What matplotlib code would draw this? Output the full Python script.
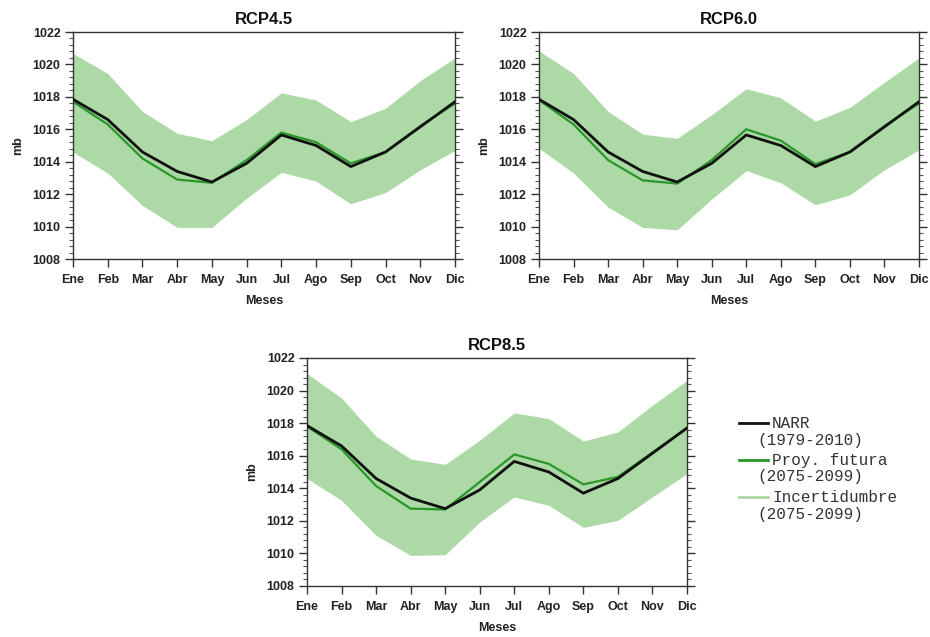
import matplotlib
matplotlib.use("Agg")
import matplotlib.pyplot as plt
from matplotlib.lines import Line2D
from matplotlib.ticker import MultipleLocator

# Monthly mean sea-level pressure (mb)
months = ["Ene", "Feb", "Mar", "Abr", "May", "Jun", "Jul", "Ago", "Sep", "Oct", "Nov", "Dic"]

narr = [1017.85, 1016.6, 1014.6, 1013.4, 1012.75, 1013.9, 1015.65, 1015.0, 1013.7, 1014.6, 1016.15, 1017.7]

rcp45_proj = [1017.7, 1016.3, 1014.2, 1012.9, 1012.7, 1014.1, 1015.8, 1015.2, 1013.9, 1014.6, 1016.2, 1017.6]
rcp45_upper = [1020.67, 1019.44, 1017.1, 1015.75, 1015.3, 1016.6, 1018.25, 1017.8, 1016.47, 1017.3, 1019.0, 1020.4]
rcp45_lower = [1014.6, 1013.3, 1011.3, 1009.95, 1009.95, 1011.75, 1013.35, 1012.8, 1011.4, 1012.1, 1013.5, 1014.7]

rcp60_proj = [1017.8, 1016.3, 1014.1, 1012.85, 1012.65, 1014.1, 1016.0, 1015.3, 1013.85, 1014.6, 1016.2, 1017.6]
rcp60_upper = [1020.83, 1019.44, 1017.1, 1015.7, 1015.44, 1016.9, 1018.5, 1017.94, 1016.5, 1017.35, 1018.9, 1020.4]
rcp60_lower = [1014.83, 1013.3, 1011.2, 1009.95, 1009.8, 1011.7, 1013.45, 1012.7, 1011.34, 1011.96, 1013.5, 1014.73]

rcp85_proj = [1017.8, 1016.4, 1014.14, 1012.75, 1012.7, 1014.39, 1016.08, 1015.5, 1014.24, 1014.7, 1016.2, 1017.7]
rcp85_upper = [1021.04, 1019.54, 1017.19, 1015.8, 1015.47, 1016.95, 1018.63, 1018.28, 1016.9, 1017.46, 1019.1, 1020.63]
rcp85_lower = [1014.6, 1013.26, 1011.11, 1009.88, 1009.92, 1011.93, 1013.47, 1012.95, 1011.6, 1012.03, 1013.47, 1014.9]

titles = ["RCP4.5", "RCP6.0", "RCP8.5"]
legend_labels = [("NARR", "(1979-2010)"),
                 ("Proy. futura", "(2075-2099)"),
                 ("Incertidumbre", "(2075-2099)")]

C_NARR = "#111111"
C_PROJ = "#2a962a"
C_BAND = "#acd9a5"

W, H = 930, 637
fig = plt.figure(figsize=(W / 100, H / 100), dpi=100)
plt.rcParams["font.family"] = ["Liberation Sans", "DejaVu Sans"]


def px_axes(left, top, right, bottom):
    return fig.add_axes([left / W, 1 - bottom / H, (right - left) / W, (bottom - top) / H])


panels = [
    (px_axes(73, 32, 455, 259), rcp45_proj, rcp45_upper, rcp45_lower),
    (px_axes(539, 32, 919, 259), rcp60_proj, rcp60_upper, rcp60_lower),
    (px_axes(307, 358, 687, 586), rcp85_proj, rcp85_upper, rcp85_lower),
]

x = list(range(len(months)))
for (ax, proj, upper, lower), title in zip(panels, titles):
    ax.fill_between(x, lower, upper, color=C_BAND, linewidth=0, zorder=1)
    ax.plot(x, proj, color=C_PROJ, lw=1.6, zorder=2)
    ax.plot(x, narr, color=C_NARR, lw=2.0, zorder=3)

    ax.set_xlim(0, 11)
    ax.set_ylim(1008, 1022)
    ax.set_xticks(x)
    ax.set_xticklabels(months)
    ax.yaxis.set_major_locator(MultipleLocator(2))
    ax.yaxis.set_minor_locator(MultipleLocator(0.4))

    ax.tick_params(axis="x", which="major", direction="out", length=6, width=1,
                   color="#333333", pad=5, labelsize=9, top=False)
    ax.tick_params(axis="y", which="major", direction="out", length=6, width=1,
                   color="#333333", pad=3, labelsize=9, left=True, right=True)
    ax.tick_params(axis="y", which="minor", direction="out", length=3, width=0.8,
                   color="#555555", left=True, right=True)
    for lab in ax.get_xticklabels() + ax.get_yticklabels():
        lab.set_fontweight("bold")
        lab.set_color("#222222")
    for sp in ax.spines.values():
        sp.set_linewidth(1.0)
        sp.set_color("#333333")

    ax.set_title(title, fontsize=12, fontweight="bold", pad=6, color="#111111")
    ax.set_xlabel("Meses", fontsize=9, fontweight="bold", labelpad=6, color="#222222")
    ax.set_ylabel("mb", fontsize=9, fontweight="bold", labelpad=6, color="#222222")

# Legend built from figure-level artists
legend_colors = [C_NARR, C_PROJ, C_BAND]
legend_widths = [2.0, 2.0, 2.0]
row_tops = [423, 460, 497]
for (l1, l2), col, lw, yy in zip(legend_labels, legend_colors, legend_widths, row_tops):
    fig.add_artist(Line2D([739 / W, 768 / W], [1 - yy / H] * 2, transform=fig.transFigure,
                          color=col, lw=lw))
    fig.text(772 / W, 1 - yy / H, l1, family=["Liberation Mono", "DejaVu Sans Mono"],
             fontsize=11.5, va="center", ha="left", color="#333333")
    fig.text(757 / W, 1 - (yy + 17) / H, l2, family=["Liberation Mono", "DejaVu Sans Mono"],
             fontsize=11.5, va="center", ha="left", color="#333333")

fig.savefig("out.png", dpi=100)
